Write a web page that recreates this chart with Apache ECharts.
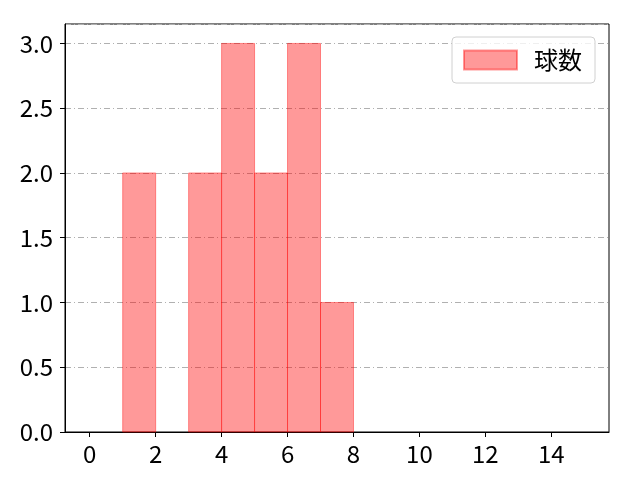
<!DOCTYPE html>
<html>
<head>
<meta charset="utf-8">
<script src="https://cdn.jsdelivr.net/npm/echarts@6/dist/echarts.min.js"></script>
<style>
  html, body { margin: 0; padding: 0; background: #fff; }
  #chart { width: 640px; height: 480px; }
</style>
</head>
<body>
<div id="chart"></div>
<script>
// histogram bins (left edge, width 1) and counts
const binStarts = [0, 1, 2, 3, 4, 5, 6, 7, 8, 9, 10, 11, 12, 13, 14];
const counts = [0, 2, 0, 2, 3, 2, 3, 1, 0, 0, 0, 0, 0, 0, 0];
const binWidth = 1;
const xTicks = [0, 2, 4, 6, 8, 10, 12, 14];
const seriesName = "球数";

const font = "'Noto Sans CJK JP', 'Noto Sans', sans-serif";

var myChart = echarts.init(document.getElementById("chart"));

var option = {
  animation: false,
  textStyle: { fontFamily: font },
  grid: {
    left: 65,
    right: 31,
    top: 24,
    bottom: 48,
    show: true,
    borderColor: "#000",
    borderWidth: 1,
    backgroundColor: "transparent",
  },
  legend: {
    data: [seriesName],
    right: 45,
    top: 37,
    orient: "vertical",
    icon: "rect",
    itemWidth: 53,
    itemHeight: 19,
    itemGap: 0,
    padding: [11, 13, 11, 11],
    borderColor: "#d0d0d0",
    borderWidth: 1,
    borderRadius: 4,
    backgroundColor: "rgba(255,255,255,0.8)",
    textStyle: {
      fontFamily: font,
      fontSize: 24,
      lineHeight: 24,
      color: "#000",
      padding: [0, 0, 0, 12],
    },
  },
  xAxis: {
    type: "value",
    min: -0.75,
    max: 15.75,
    axisLine: { show: true, onZero: false, lineStyle: { color: "#000", width: 1 } },
    axisTick: { show: true, length: 5, lineStyle: { color: "#000" }, customValues: xTicks },
    axisLabel: {
      customValues: xTicks,
      fontSize: 24,
      color: "#000",
      margin: 10,
      fontFamily: font,
    },
    splitLine: { show: false },
  },
  yAxis: {
    type: "value",
    min: 0,
    max: 3.15,
    interval: 0.5,
    axisLine: { show: true, onZero: false, lineStyle: { color: "#000", width: 1 } },
    axisTick: { show: true, length: 5, lineStyle: { color: "#000" } },
    axisLabel: {
      fontSize: 24,
      color: "#000",
      margin: 12,
      fontFamily: font,
      showMaxLabel: false,
      formatter: (v) => (Math.abs(v - 3.15) < 1e-6 ? "" : v.toFixed(1)),
    },
    splitLine: {
      show: true,
      lineStyle: { color: "#b0b0b0", width: 1, type: [6, 3, 1, 3] },
    },
  },
  series: [
    {
      name: seriesName,
      type: "custom",
      itemStyle: {
        color: "rgba(255,0,0,0.4)",
        borderColor: "rgba(255,0,0,0.4)",
        borderWidth: 1,
      },
      data: binStarts.map((s, i) => [s, s + binWidth, counts[i]]),
      renderItem: function (params, api) {
        var p0 = api.coord([api.value(0), 0]);
        var p1 = api.coord([api.value(1), api.value(2)]);
        if (api.value(2) <= 0) return null;
        return {
          type: "rect",
          shape: { x: p0[0], y: p1[1], width: p1[0] - p0[0], height: p0[1] - p1[1] },
          style: {
            fill: "rgba(255,0,0,0.4)",
            stroke: "rgba(255,0,0,0.4)",
            lineWidth: 1,
          },
        };
      },
    },
  ],
};

myChart.setOption(option);
</script>
</body>
</html>
